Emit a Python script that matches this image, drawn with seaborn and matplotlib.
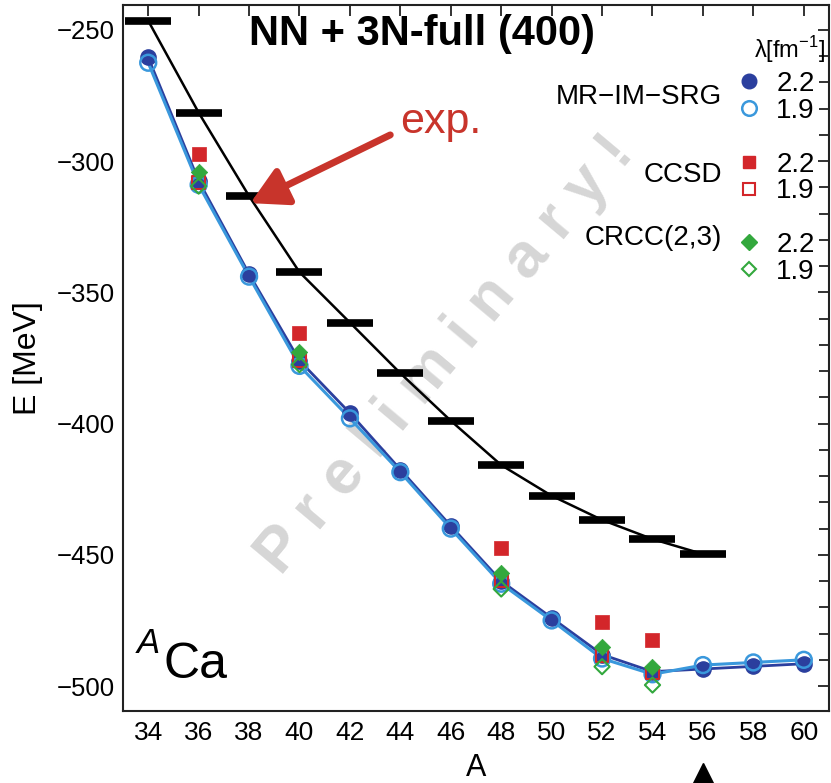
import numpy as np
import pandas as pd
import matplotlib
matplotlib.use("Agg")
import matplotlib.pyplot as plt
import seaborn as sns
from matplotlib.lines import Line2D
from matplotlib.ticker import MultipleLocator
import matplotlib.transforms as mtransforms

# ---------------- data ----------------
A_exp = [34, 36, 38, 40, 42, 44, 46, 48, 50, 52, 54, 56]
E_exp = [-246.5, -281.5, -313.3, -342.3, -361.5, -380.8, -398.9, -415.8,
         -427.5, -436.7, -444.0, -449.7]

A_mr = [34, 36, 38, 40, 42, 44, 46, 48, 50, 52, 54, 56, 58, 60]
E_mr_22 = [-260.5, -307.5, -343.0, -376.0, -396.0, -417.5, -439.0, -460.0,
           -474.0, -488.0, -494.5, -493.5, -492.5, -491.5]
E_mr_19 = [-262.5, -309.0, -344.0, -378.0, -398.0, -418.5, -440.0, -461.0,
           -475.0, -489.5, -495.5, -492.0, -491.0, -490.0]

A_cc = [36, 40, 48, 52, 54]
E_ccsd_22 = [-297.3, -365.6, -447.5, -475.5, -482.5]
E_ccsd_19 = [-308.0, -376.0, -460.0, -488.5, -495.0]
E_crcc_22 = [-304.0, -372.6, -457.0, -485.0, -492.6]
E_crcc_19 = [-309.5, -377.5, -463.0, -492.6, -499.6]

x_ticks = list(range(34, 61, 2))
y_ticks = [-500, -450, -400, -350, -300, -250]

# ---------------- style ----------------
sns.set_style("white")
plt.rcParams['font.family'] = ['Liberation Sans', 'DejaVu Sans']
plt.rcParams['mathtext.fontset'] = 'custom'
plt.rcParams['mathtext.rm'] = 'Liberation Sans'
plt.rcParams['text.color'] = 'black'
plt.rcParams['axes.labelcolor'] = 'black'
plt.rcParams['xtick.color'] = 'black'
plt.rcParams['ytick.color'] = 'black'

C_DB = '#2b3f9e'
C_LB = '#3a98dc'
C_RED = '#d3262a'
C_GRN = '#33a83d'
C_ARR = '#c8342b'

fig = plt.figure(figsize=(8.31, 7.83), dpi=100)
ax = fig.add_axes([123/831, 1-711/783, (829-123)/831, (711-5)/783])

df_exp = pd.DataFrame({'A': A_exp, 'E': E_exp})
df_mr = pd.DataFrame({'A': A_mr, 'E22': E_mr_22, 'E19': E_mr_19})
df_cc = pd.DataFrame({'A': A_cc, 'ccsd22': E_ccsd_22, 'ccsd19': E_ccsd_19,
                      'crcc22': E_crcc_22, 'crcc19': E_crcc_19})

# watermark
ax.text(45.8, -374.0, "P r e l i m i n a r y !", rotation=50, rotation_mode='anchor',
        ha='center', va='center', fontsize=45, fontweight='bold', color='#d6d6d6',
        zorder=0)

# experiment
sns.lineplot(data=df_exp, x='A', y='E', color='black', lw=1.8, ax=ax, zorder=2)
sns.scatterplot(data=df_exp, x='A', y='E', marker='_', s=1050, linewidth=5.5,
                color='black', ax=ax, zorder=3)

# MR-IM-SRG
sns.lineplot(data=df_mr, x='A', y='E22', color=C_DB, lw=2.0, ax=ax, zorder=4)
sns.lineplot(data=df_mr, x='A', y='E19', color=C_LB, lw=2.2, ax=ax, zorder=4)
sns.scatterplot(data=df_mr, x='A', y='E22', marker='o', s=120, color=C_DB,
                edgecolor=C_DB, linewidth=1, ax=ax, zorder=5)
sns.scatterplot(data=df_mr, x='A', y='E19', marker='o', s=130, facecolor='none',
                edgecolor=C_LB, linewidth=1.8, ax=ax, zorder=6)

# CC
sns.scatterplot(data=df_cc, x='A', y='ccsd19', marker='s', s=85, facecolor='none',
                edgecolor=C_RED, linewidth=1.5, ax=ax, zorder=7)
sns.scatterplot(data=df_cc, x='A', y='crcc19', marker='D', s=60, facecolor='none',
                edgecolor=C_GRN, linewidth=1.5, ax=ax, zorder=7)
sns.scatterplot(data=df_cc, x='A', y='ccsd22', marker='s', s=95, color=C_RED,
                edgecolor=C_RED, linewidth=0.5, ax=ax, zorder=8)
sns.scatterplot(data=df_cc, x='A', y='crcc22', marker='D', s=70, color=C_GRN,
                edgecolor=C_GRN, linewidth=0.5, ax=ax, zorder=9)

# axes
ax.set_xlim(33, 61)
ax.set_ylim(-509.5, -240.5)
ax.set_xticks(x_ticks)
ax.set_yticks(y_ticks)
ax.yaxis.set_minor_locator(MultipleLocator(10))
ax.tick_params(axis='both', which='both', direction='in', top=True, right=True,
               width=1.3, color='#222222')
ax.tick_params(axis='both', which='major', length=8)
ax.tick_params(axis='both', which='minor', length=7)
ax.tick_params(axis='x', labelsize=19, pad=7)
ax.tick_params(axis='y', labelsize=18.5, pad=6)
for sp in ax.spines.values():
    sp.set_linewidth(1.5)
    sp.set_color('#222222')
ax.set_xlabel('A', fontsize=22, labelpad=6)
ax.set_ylabel('E [MeV]', fontsize=23, labelpad=10)

# texts
fig.text(422/831, 1-45/783, 'NN + 3N-full (400)', ha='center', va='baseline',
         fontsize=30, fontweight='bold')
fig.text(400/831, 1-133/783, 'exp.', ha='left', va='baseline', fontsize=31,
         color=C_ARR)
fig.text(137/831, 1-653/783, 'A', ha='left', va='baseline', fontsize=25,
         style='italic')
fig.text(163/831, 1-678/783, 'Ca', ha='left', va='baseline', fontsize=36)

ax.annotate('', xy=(38.05, -316.0), xytext=(43.6, -290.0),
            arrowprops=dict(arrowstyle='-|>,head_length=1.0,head_width=0.55',
                            color=C_ARR, lw=5, mutation_scale=22,
                            shrinkA=0, shrinkB=0), zorder=10)

# bottom triangle (below the axes, cut by the figure edge)
tri_tr = mtransforms.blended_transform_factory(ax.transData, fig.transFigure)
ax.plot([56], [1-778/783], marker='^', markersize=22, color='black', clip_on=False,
        transform=tri_tr, linestyle='none')

# legend
handles = [
    Line2D([], [], ls='none', marker='o', ms=10.5, mfc=C_DB, mec=C_DB),
    Line2D([], [], ls='none', marker='o', ms=10.5, mfc='none', mec=C_LB, mew=1.8),
    Line2D([], [], ls='none'),
    Line2D([], [], ls='none', marker='s', ms=9, mfc=C_RED, mec=C_RED),
    Line2D([], [], ls='none', marker='s', ms=8.5, mfc='none', mec=C_RED, mew=1.5),
    Line2D([], [], ls='none'),
    Line2D([], [], ls='none', marker='D', ms=8, mfc=C_GRN, mec=C_GRN),
    Line2D([], [], ls='none', marker='D', ms=7.5, mfc='none', mec=C_GRN, mew=1.5),
]
labels = ['2.2', '1.9', '', '2.2', '1.9', '', '2.2', '1.9']
leg = ax.legend(handles, labels, loc='upper right', bbox_to_anchor=(815/831, 1-71/783),
                bbox_transform=fig.transFigure, frameon=False, fontsize=20,
                handlelength=1.0, handletextpad=0.5, labelspacing=0.03,
                borderpad=0, borderaxespad=0)
fig.text(825/831, 1-50/783, r'λ[fm$^{-1}$]', ha='right', va='center', fontsize=17)
fig.text(722/831, 1-97/783, 'MR−IM−SRG', ha='right', va='center', fontsize=20)
fig.text(722/831, 1-175/783, 'CCSD', ha='right', va='center', fontsize=20)
fig.text(722/831, 1-238/783, 'CRCC(2,3)', ha='right', va='center', fontsize=20)

fig.savefig('out.png', dpi=100)
